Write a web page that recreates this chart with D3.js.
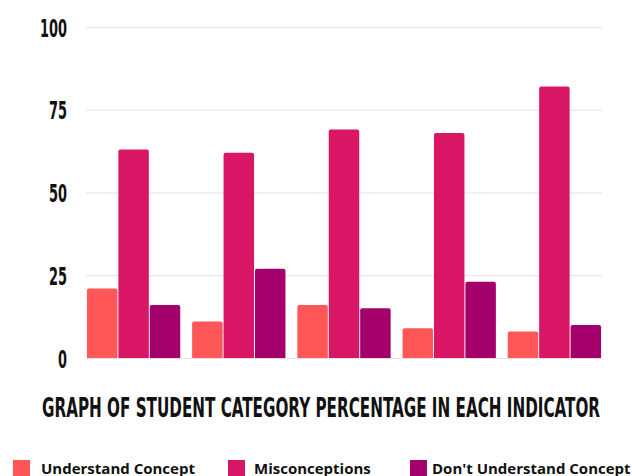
<!DOCTYPE html>
<html>
<head>
<meta charset="utf-8">
<script src="https://cdn.jsdelivr.net/npm/d3@7"></script>
<style>
  html, body { margin: 0; padding: 0; background: #fff; }
  svg { display: block; }
</style>
</head>
<body>
<svg id="chart" width="632" height="476"></svg>
<script>
// Indicators (groups) and the three student categories
const indicators = ["Indicator 1", "Indicator 2", "Indicator 3", "Indicator 4", "Indicator 5"];
const seriesNames = ["Understand Concept", "Misconceptions", "Don't Understand Concept"];
const understandConcept = [21, 11, 16, 9, 8];
const misconceptions = [63, 62, 69, 68, 82];
const dontUnderstandConcept = [16, 27, 15, 23, 10];
const yTicks = [0, 25, 50, 75, 100];
const seriesColors = ["#ff5757", "#d91665", "#a3006c"];
const chartTitle = "GRAPH OF STUDENT CATEGORY PERCENTAGE IN EACH INDICATOR";

const seriesValues = [understandConcept, misconceptions, dontUnderstandConcept];
const rows = indicators.map((name, i) => ({
  name,
  values: seriesNames.map((s, j) => ({ series: s, idx: j, value: seriesValues[j][i] }))
}));

const svg = d3.select("#chart");
const plot = { left: 86, right: 602, top: 27, bottom: 358 };
const condensed = "'Liberation Sans Narrow', 'DejaVu Sans Condensed', 'Roboto', sans-serif";

const x0 = d3.scaleBand().domain(indicators).range([plot.left, plot.right])
  .paddingInner(0.095).paddingOuter(0);
const x1 = d3.scaleBand().domain(seriesNames).range([0, x0.bandwidth()]).padding(0.03);
const y = d3.scaleLinear().domain([0, 100]).range([plot.bottom, plot.top]);
const color = d3.scaleOrdinal().domain(seriesNames).range(seriesColors);

// Horizontal gridlines and y tick labels
const yAxis = svg.append("g")
  .attr("transform", `translate(${plot.left},0)`)
  .call(d3.axisLeft(y).tickValues(yTicks).tickSize(-(plot.right - plot.left)).tickPadding(0));
yAxis.select(".domain").remove();
yAxis.selectAll(".tick line").attr("stroke", "#e2e2e6").attr("stroke-width", 1);
const tickText = yAxis.selectAll(".tick text")
  .attr("x", 0)
  .attr("dy", "0.36em")
  .attr("text-anchor", "end")
  .attr("fill", "#111")
  .style("font-family", condensed)
  .style("font-weight", "700")
  .style("font-size", "25px");
// squeeze the labels horizontally into a tall, condensed look
const widest = d3.max(tickText.nodes(), n => n.getComputedTextLength());
const squeeze = 27 / widest;
tickText.attr("transform", `translate(-19,0) scale(${squeeze},1)`);

// Grouped bars
const groups = svg.append("g").selectAll("g")
  .data(rows)
  .join("g")
  .attr("transform", d => `translate(${x0(d.name)},0)`);

groups.selectAll("path")
  .data(d => d.values)
  .join("path")
  .attr("fill", d => color(d.series))
  .attr("d", d => {
    const bx = x1(d.series), bw = x1.bandwidth();
    const top = y(d.value), base = y(0), r = 2;
    return `M${bx},${base} V${top + r} Q${bx},${top} ${bx + r},${top} H${bx + bw - r} Q${bx + bw},${top} ${bx + bw},${top + r} V${base} Z`;
  });

// Title
svg.append("text")
  .attr("x", 321)
  .attr("y", 417)
  .attr("text-anchor", "middle")
  .attr("textLength", 558)
  .attr("lengthAdjust", "spacingAndGlyphs")
  .attr("fill", "#111")
  .style("font-family", condensed)
  .style("font-weight", "700")
  .style("font-size", "26px")
  .text(chartTitle);

// Legend
const legendX = [13, 228, 410];
const legendTextGap = [28, 26, 22];
const legend = svg.append("g").selectAll("g")
  .data(seriesNames)
  .join("g")
  .attr("transform", (d, i) => `translate(${legendX[i]},460)`);
legend.append("rect")
  .attr("width", 17).attr("height", 17)
  .attr("fill", d => color(d));
legend.append("text")
  .attr("x", (d, i) => legendTextGap[i])
  .attr("y", 14)
  .attr("fill", "#111")
  .style("font-family", "'Open Sans', sans-serif")
  .style("font-weight", "700")
  .style("font-size", "15px")
  .text(d => d);
</script>
</body>
</html>
